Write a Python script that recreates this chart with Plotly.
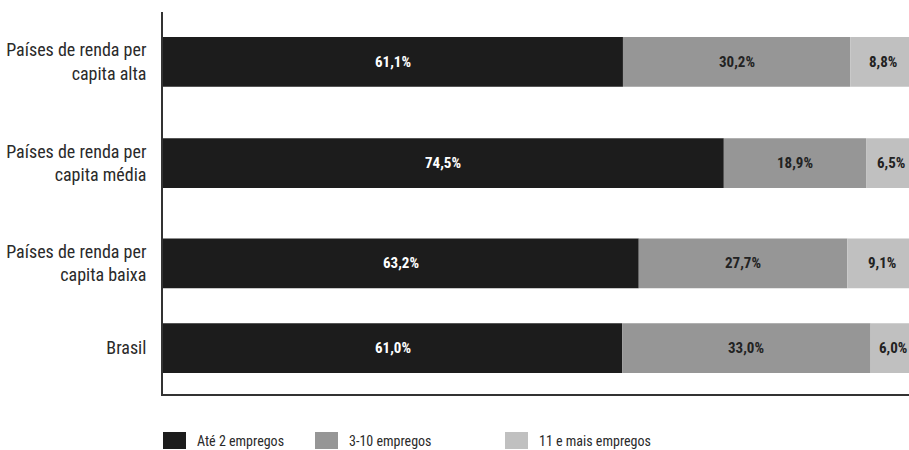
import plotly.graph_objects as go

# Distribuição das empresas por número de empregos
categories = [
    "Países de renda per<br>capita alta",
    "Países de renda per<br>capita média",
    "Países de renda per<br>capita baixa",
    "Brasil",
]
series_names = ["Até 2 empregos", "3-10 empregos", "11 e mais empregos"]
ate_2 = [61.1, 74.5, 63.2, 61.0]
de_3_a_10 = [30.2, 18.9, 27.7, 33.0]
mais_11 = [8.8, 6.5, 9.1, 6.0]

series_values = [ate_2, de_3_a_10, mais_11]
colors = ["#1c1c1c", "#969696", "#c0c0c0"]
text_colors = ["#ffffff", "#222222", "#222222"]

# vertical slot of each row (top to bottom), in axis units
row_slots = [2.87, 1.855, 0.85, 0.0]

FONT = "Liberation Sans Narrow, Arial Narrow, Roboto Condensed, Arial, sans-serif"


def fmt(v):
    return f"{v:.1f}".replace(".", ",") + "%"


fig = go.Figure()
annotations = []
base = [0.0] * len(categories)
for name, vals, col, tcol in zip(series_names, series_values, colors, text_colors):
    fig.add_trace(go.Bar(
        name=name,
        y=row_slots,
        x=vals,
        base=base,
        orientation="h",
        width=0.5,
        marker=dict(color=col, line=dict(width=0)),
        showlegend=False,
        hoverinfo="skip",
    ))
    for yv, b, v in zip(row_slots, base, vals):
        annotations.append(dict(
            x=b + v / 2, y=yv, xref="x", yref="y", text=fmt(v), showarrow=False,
            font=dict(family=FONT, size=15, color=tcol, weight="bold"),
        ))
    base = [b + v for b, v in zip(base, vals)]

# legend drawn beneath the plot
legend_x = [163, 315, 505]
shapes = []
for lx, name, col in zip(legend_x, series_names, colors):
    shapes.append(dict(type="rect", xref="paper", yref="paper",
                       x0=(lx - 163) / 746, x1=(lx + 23 - 163) / 746,
                       y0=-(432 - 394) / 382, y1=-(449 - 394) / 382,
                       fillcolor=col, line=dict(width=0)))
    annotations.append(dict(
        x=(lx + 32 - 163) / 746, y=-(440.5 - 394) / 382, xref="paper", yref="paper",
        text=name, showarrow=False, xanchor="left", yanchor="middle",
        font=dict(family=FONT, size=14, color="#2a2a2a"),
    ))

fig.update_layout(
    width=909, height=450,
    margin=dict(l=163, r=0, t=12, b=56),
    paper_bgcolor="white", plot_bgcolor="white",
    barmode="overlay",
    font=dict(family=FONT, color="#222222"),
    xaxis=dict(range=[0, 99.1], showgrid=False, zeroline=False, showticklabels=False,
               showline=True, linecolor="#333333", linewidth=2, ticks=""),
    yaxis=dict(range=[-0.46, 3.37], tickmode="array", tickvals=row_slots,
               ticktext=categories, showgrid=False, zeroline=False,
               showline=True, linecolor="#333333", linewidth=2, ticks="",
               ticklabelstandoff=11, tickfont=dict(family=FONT, size=18, color="#2a2a2a")),
    annotations=annotations,
    shapes=shapes,
)

fig.write_html("out.html")
